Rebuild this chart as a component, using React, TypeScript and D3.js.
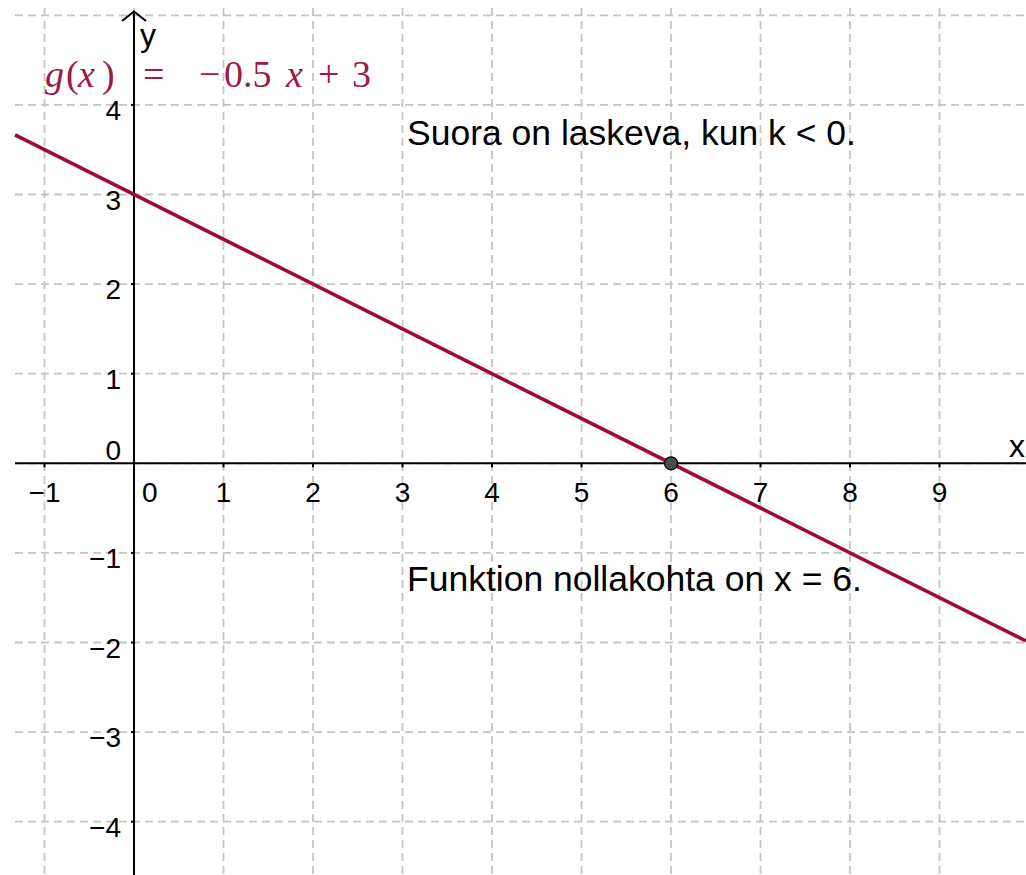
import React, { useEffect, useRef } from "react";
import * as d3 from "d3";

// Function g(x) = k x + b
const coefK = [-0.5];
const coefB = [3];
const xTicks = [-1, 0, 1, 2, 3, 4, 5, 6, 7, 8, 9];
const yTicks = [-4, -3, -2, -1, 0, 1, 2, 3, 4];
const xGrid = [-1, 0, 1, 2, 3, 4, 5, 6, 7, 8, 9, 10];
const yGrid = [-4, -3, -2, -1, 0, 1, 2, 3, 4, 5];
const zeroPoint = [{ x: 6, y: 0 }];
const annotations = [
  { text: "Suora on laskeva, kun k < 0.", x: 3.05, y: 3.55 },
  { text: "Funktion nollakohta on x = 6.", x: 3.05, y: -1.43 },
];

const W = 1026;
const H = 875;
const LINE = "#9b0b3f";

export default function App() {
  const ref = useRef<SVGSVGElement | null>(null);

  useEffect(() => {
    document.body.style.margin = "0";
    const svg = d3.select(ref.current);
    svg.selectAll("*").remove();

    const x = d3.scaleLinear().domain([-1, 9]).range([44.5, 939.5]);
    const y = d3.scaleLinear().domain([0, 5]).range([463.3, 15.3]);
    const left = 15, top = 8;

    // grid
    const grid = svg.append("g");
    grid
      .selectAll("line.v")
      .data(xGrid)
      .join("line")
      .attr("x1", (d) => x(d))
      .attr("x2", (d) => x(d))
      .attr("y1", top)
      .attr("y2", H)
      .attr("stroke", "#c4c4c4")
      .attr("stroke-width", 1.8)
      .attr("stroke-dasharray", "8,5");
    grid
      .selectAll("line.h")
      .data(yGrid)
      .join("line")
      .attr("x1", left)
      .attr("x2", W)
      .attr("y1", (d) => y(d))
      .attr("y2", (d) => y(d))
      .attr("stroke", "#c4c4c4")
      .attr("stroke-width", 1.8)
      .attr("stroke-dasharray", "8,5");

    // axes
    const axes = svg.append("g").attr("stroke", "#000").attr("stroke-width", 2);
    axes.append("line").attr("x1", left).attr("x2", W).attr("y1", y(0)).attr("y2", y(0));
    axes.append("line").attr("x1", x(0)).attr("x2", x(0)).attr("y1", 12).attr("y2", H);
    axes
      .append("path")
      .attr("d", `M${x(0) - 12},21 L${x(0)},11.5 L${x(0) + 12},21`)
      .attr("fill", "none")
      .attr("stroke-width", 2);
    axes
      .selectAll("line.xt")
      .data(xTicks.filter((d) => d !== 0))
      .join("line")
      .attr("x1", (d) => x(d))
      .attr("x2", (d) => x(d))
      .attr("y1", y(0))
      .attr("y2", y(0) + 4);
    axes
      .selectAll("line.yt")
      .data(yTicks.filter((d) => d !== 0))
      .join("line")
      .attr("x1", x(0) - 3)
      .attr("x2", x(0))
      .attr("y1", (d) => y(d))
      .attr("y2", (d) => y(d));

    const font = "'Liberation Sans', Arial, sans-serif";
    const fmt = (d: number) => (d < 0 ? "\u2212" + Math.abs(d) : String(d));

    svg
      .append("g")
      .selectAll("text")
      .data(xTicks)
      .join("text")
      .attr("x", (d) => (d === 0 ? x(0) + 8 : x(d)))
      .attr("y", y(0) + 39)
      .attr("text-anchor", (d) => (d === 0 ? "start" : "middle"))
      .attr("font-family", font)
      .attr("font-size", 28)
      .text(fmt);

    svg
      .append("g")
      .selectAll("text")
      .data(yTicks)
      .join("text")
      .attr("x", x(0) - 13)
      .attr("y", (d) => (d === 0 ? y(0) - 3 : y(d) + 15))
      .attr("text-anchor", "end")
      .attr("font-family", font)
      .attr("font-size", 28)
      .text(fmt);

    svg.append("text").attr("x", 140).attr("y", 46).attr("font-family", font).attr("font-size", 32).text("y");
    svg.append("text").attr("x", 1009).attr("y", 457).attr("font-family", font).attr("font-size", 32).text("x");

    // function line
    const g = (t: number) => coefK[0] * t + coefB[0];
    const xs = [x.invert(left), x.invert(W)];
    const lineGen = d3
      .line<number>()
      .x((d) => x(d))
      .y((d) => y(g(d)));
    svg
      .append("path")
      .attr("d", lineGen(xs))
      .attr("fill", "none")
      .attr("stroke", LINE)
      .attr("stroke-width", 3.6);

    // zero point
    svg
      .selectAll("circle.z")
      .data(zeroPoint)
      .join("circle")
      .attr("cx", (d) => x(d.x))
      .attr("cy", (d) => y(d.y))
      .attr("r", 6.5)
      .attr("fill", "#4d4d4d")
      .attr("stroke", "#000")
      .attr("stroke-width", 1.2);

    // annotations
    svg
      .append("g")
      .selectAll("text")
      .data(annotations)
      .join("text")
      .attr("x", (d) => x(d.x))
      .attr("y", (d) => y(d.y))
      .attr("font-family", font)
      .attr("font-size", 35.5)
      .text((d) => d.text);

    // formula
    const f = svg
      .append("text")
      .attr("y", 87)
      .attr("font-family", "'Liberation Serif', 'Times New Roman', serif")
      .attr("font-size", 38)
      .attr("fill", "#9b1a4a");
    const parts: [string, number, boolean][] = [
      ["g", 45, true],
      ["(", 66, false],
      ["x", 78, true],
      [")", 102, false],
      ["=", 143, false],
      ["\u2212", 199, false],
      ["0.5", 224, false],
      ["x", 286, true],
      ["+", 318, false],
      ["3", 352, false],
    ];
    parts.forEach(([t, px, it]) => {
      f.append("tspan")
        .attr("x", px)
        .attr("font-style", it ? "italic" : "normal")
        .text(t);
    });
  }, []);

  return (
    <svg
      ref={ref}
      width={W}
      height={H}
      style={{ display: "block", background: "#fff" }}
    />
  );
}
